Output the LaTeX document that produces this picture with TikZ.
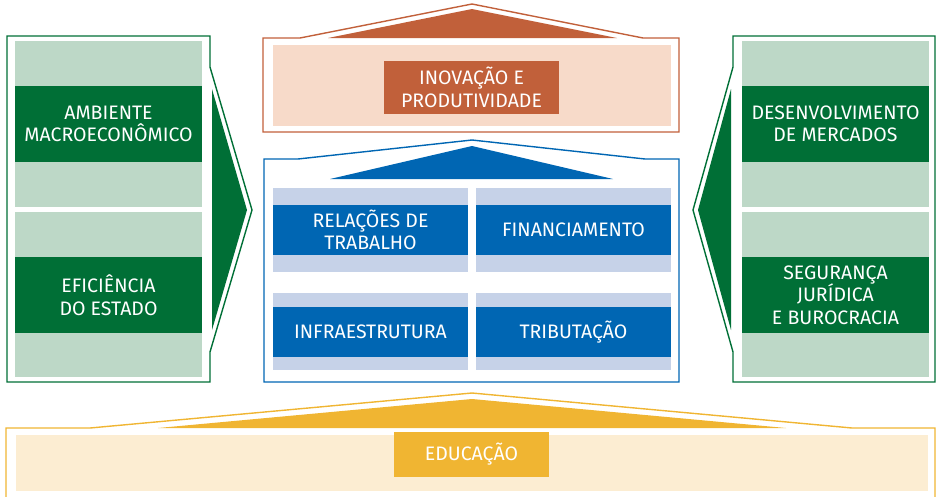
\documentclass[tikz,border=0pt]{standalone}
\usepackage{fontspec}
\setmainfont{Fira Sans}
\definecolor{verde}{HTML}{006F36}
\definecolor{verdeclaro}{HTML}{BDD8C7}
\definecolor{laranja}{HTML}{C1603A}
\definecolor{laranjaclaro}{HTML}{F7DAC9}
\definecolor{azul}{HTML}{0066B3}
\definecolor{azulclaro}{HTML}{C6D2E8}
\definecolor{amarelo}{HTML}{F0B532}
\definecolor{amareloclaro}{HTML}{FCEDD2}

\begin{document}
\begin{tikzpicture}[x=1pt, y=-1pt,
    rotulo/.style={text=white, align=center, inner sep=0pt, font=\fontsize{19.5}{22.5}\selectfont},
    contorno/.style={line width=1.4pt, line join=miter}]
    \useasboundingbox (0,0) rectangle (937,496);

    % esquerda
    \draw[contorno, verde] (7,36) -- (210,36) -- (210,67) -- (252,210) -- (210,352) -- (210,382) -- (7,382) -- cycle;
    \fill[verdeclaro] (15,41) rectangle (202,207);
    \fill[verdeclaro] (15,212) rectangle (202,377);
    \fill[verde] (212,89) -- (247,210) -- (212,330) -- cycle;
    \node[rotulo, fill=verde, minimum width=187pt, minimum height=76pt] (ambiente) at (108.5,124) {AMBIENTE\\MACROECONÔMICO};
    \node[rotulo, fill=verde, minimum width=187pt, minimum height=76pt] (eficiencia) at (108.5,295) {EFICIÊNCIA\\DO ESTADO};

    % direita
    \draw[contorno, verde] (935,36) -- (733,36) -- (733,67) -- (693,210) -- (733,352) -- (733,382) -- (935,382) -- cycle;
    \fill[verdeclaro] (742,41) rectangle (929,207);
    \fill[verdeclaro] (742,212) rectangle (929,377);
    \fill[verde] (731,89) -- (698,210) -- (731,330) -- cycle;
    \node[rotulo, fill=verde, minimum width=187pt, minimum height=76pt] (mercados) at (835.5,124) {DESENVOLVIMENTO\\DE MERCADOS};
    \node[rotulo, fill=verde, minimum width=187pt, minimum height=76pt] (seguranca) at (835.5,295) {SEGURANÇA\\JURÍDICA\\E BUROCRACIA};

    % topo
    \draw[contorno, laranja] (263,38) -- (300,38) -- (472,4) -- (643,38) -- (679,38) -- (679,132) -- (263,132) -- cycle;
    \fill[laranja] (328,38) -- (472,9) -- (617,38) -- cycle;
    \fill[laranjaclaro] (273,45) rectangle (671,126);
    \node[rotulo, fill=laranja, minimum width=175pt, minimum height=53pt] (inovacao) at (471.5,87.5) {INOVAÇÃO E\\PRODUTIVIDADE};

    % centro
    \draw[contorno, azul] (264,159) -- (298,159) -- (472,140) -- (645,159) -- (679,159) -- (679,382) -- (264,382) -- cycle;
    \fill[azul] (330,179) -- (472,146) -- (613,179) -- cycle;
    \fill[azulclaro] (273,188) rectangle (468,272);
    \fill[azulclaro] (476,188) rectangle (671,272);
    \fill[azulclaro] (273,293) rectangle (468,370);
    \fill[azulclaro] (476,293) rectangle (671,370);
    \node[rotulo, fill=azul, minimum width=195pt, minimum height=50pt] (relacoes) at (370.5,230) {RELAÇÕES DE\\TRABALHO};
    \node[rotulo, fill=azul, minimum width=195pt, minimum height=50pt] (financiamento) at (573.5,230) {FINANCIAMENTO};
    \node[rotulo, fill=azul, minimum width=195pt, minimum height=50pt] (infra) at (370.5,332) {INFRAESTRUTURA};
    \node[rotulo, fill=azul, minimum width=195pt, minimum height=50pt] (tributacao) at (573.5,332) {TRIBUTAÇÃO};

    % base
    \draw[contorno, amarelo] (6,497) -- (6,428) -- (90,428) -- (472,393) -- (852,428) -- (935,428) -- (935,497);
    \fill[amarelo] (158,428) -- (472,399) -- (786,428) -- cycle;
    \fill[amareloclaro] (16,435) rectangle (928,491);
    \node[rotulo, fill=amarelo, minimum width=155pt, minimum height=45pt] (educacao) at (471.5,454.5) {EDUCAÇÃO};

\end{tikzpicture}
\end{document}
